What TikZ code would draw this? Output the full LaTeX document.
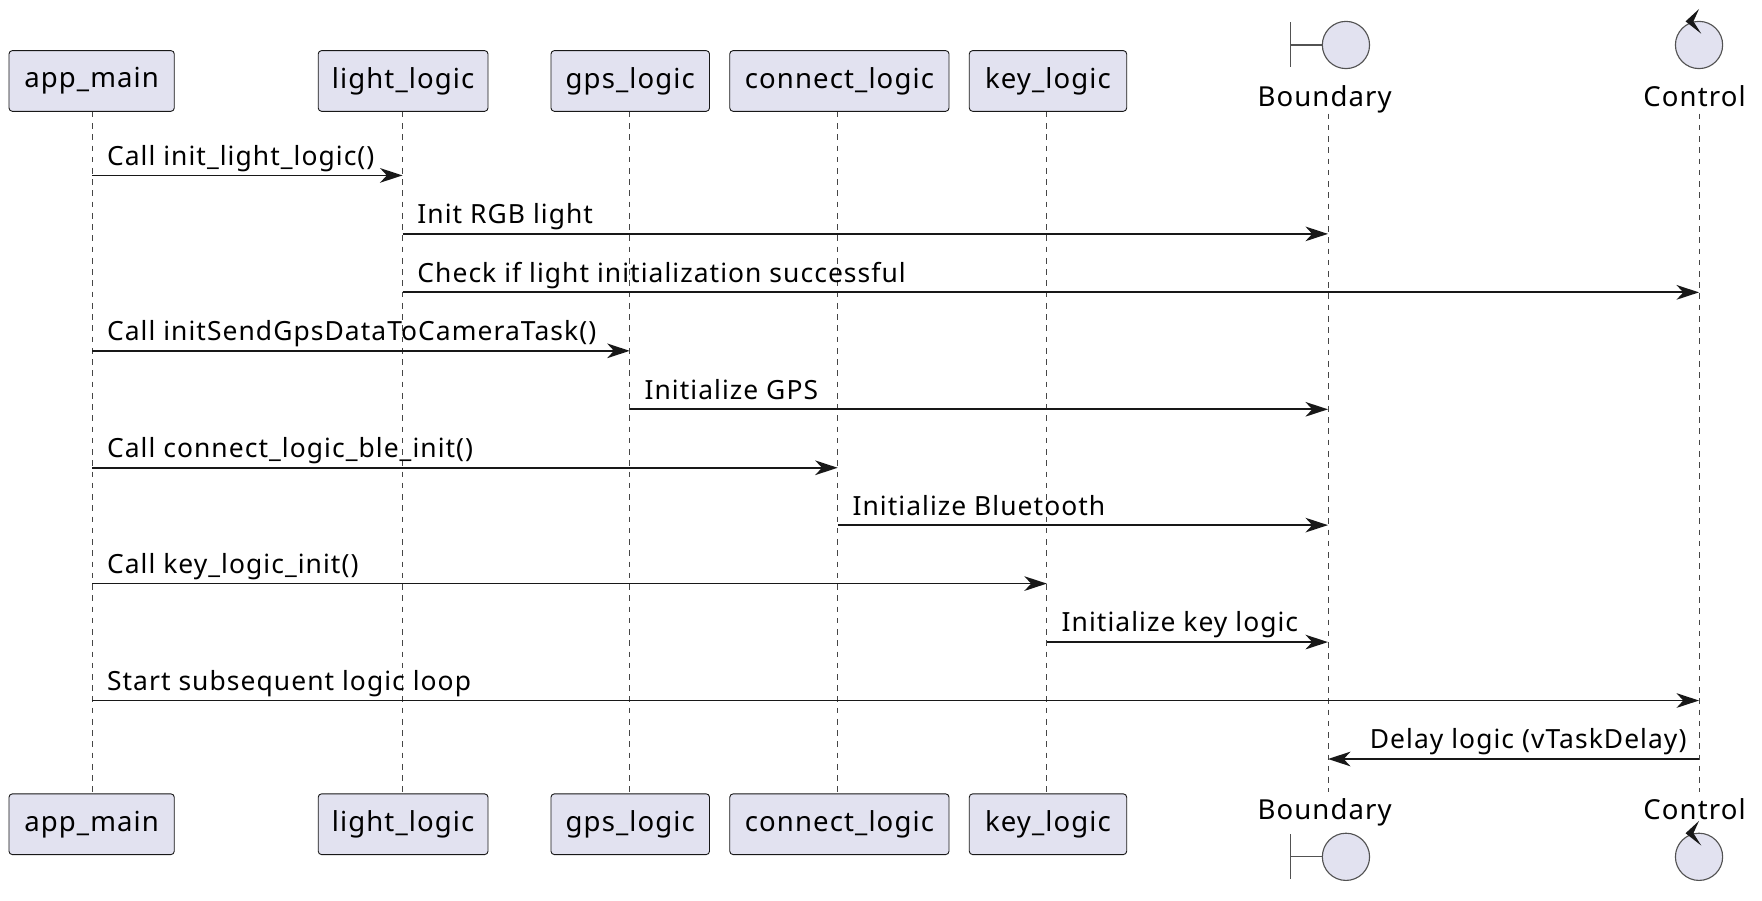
\documentclass[tikz,border=0pt]{standalone}
\usepackage{fontspec}
\setmainfont{Noto Sans}[LetterSpace=4]
\usetikzlibrary{arrows.meta}
\definecolor{pfill}{HTML}{E2E2F0}
\definecolor{pline}{HTML}{181818}
\tikzset{
  part/.style={draw=pline, fill=pfill, line width=0.8pt, rounded corners=3pt,
    minimum height=54pt, inner sep=0pt, font=\fontsize{24.5}{28}\selectfont},
  lifeline/.style={draw=pline!80, line width=0.8pt, dash pattern=on 5pt off 5pt},
  msg/.style={draw=pline, line width=1.6pt, -{Stealth[length=20pt,width=13pt,inset=6pt]}},
  msgtxt/.style={anchor=base west, inner sep=0pt, font=\fontsize{23.5}{26}\selectfont},
  iconline/.style={draw=pline!75, line width=1pt},
  iconcirc/.style={draw=pline!75, fill=pfill, line width=1pt},
  actlabel/.style={inner sep=0pt, anchor=base, font=\fontsize{24.5}{28}\selectfont}
}
\begin{document}
\begin{tikzpicture}[x=1pt,y=-1pt]
\useasboundingbox (0,0) rectangle (1567,801);
% participants top
\node[part, minimum width=147pt] (am) at (81.5,72) {app\_main};
\node[part, minimum width=151pt] (ll) at (358.5,72) {light\_logic};
\node[part, minimum width=141pt] (gl) at (560.5,72) {gps\_logic};
\node[part, minimum width=195pt] (cl) at (746.5,72) {connect\_logic};
\node[part, minimum width=140pt] (kl) at (932,72) {key\_logic};
% participants bottom
\node[part, minimum width=147pt] (amb) at (81.5,733) {app\_main};
\node[part, minimum width=151pt] (llb) at (358.5,733) {light\_logic};
\node[part, minimum width=141pt] (glb) at (560.5,733) {gps\_logic};
\node[part, minimum width=195pt] (clb) at (746.5,733) {connect\_logic};
\node[part, minimum width=140pt] (klb) at (932,733) {key\_logic};
% boundary / control labels
\node[actlabel] (bd) at (1178,95) {Boundary};
\node[actlabel] (ct) at (1507,95) {Control};
\node[actlabel] (bdb) at (1178,729) {Boundary};
\node[actlabel] (ctb) at (1507,729) {Control};
% lifeline coordinates
\coordinate (xam) at (82,0);
\coordinate (xll) at (358,0);
\coordinate (xgl) at (560,0);
\coordinate (xcl) at (745,0);
\coordinate (xkl) at (931,0);
\coordinate (xbd) at (1181,0);
\coordinate (xct) at (1511,0);
% lifelines
\draw[lifeline] (am.south -| xam) -- (amb.north -| xam);
\draw[lifeline] (ll.south -| xll) -- (llb.north -| xll);
\draw[lifeline] (gl.south -| xgl) -- (glb.north -| xgl);
\draw[lifeline] (cl.south -| xcl) -- (clb.north -| xcl);
\draw[lifeline] (kl.south -| xkl) -- (klb.north -| xkl);
\draw[lifeline] (xbd |- 0,101) -- (xbd |- 0,704);
\draw[lifeline] (xct |- 0,101) -- (xct |- 0,704);
% boundary icons
\foreach \cy in {40, 762}{
  \draw[iconline] (1148,\cy-20) -- (1148,\cy+20);
  \draw[iconline] (1148,\cy) -- (1176,\cy);
  \draw[iconcirc] (1197,\cy) circle[radius=21];
}
% control icons
\foreach \cy in {40, 762}{
  \draw[iconcirc] (1511,\cy) circle[radius=21];
  \fill[pline] (1499,\cy-21) -- (1511,\cy-32) -- (1506,\cy-21) -- (1513,\cy-10) -- cycle;
}
% messages
\draw[msg] (xam |- 0,156) -- (xll |- 0,156);
\node[msgtxt] (m1) at (95,147) {Call init\_light\_logic()};
\draw[msg] (xll |- 0,208) -- (xbd |- 0,208);
\node[msgtxt] (m2) at (371,199) {Init RGB light};
\draw[msg] (xll |- 0,260) -- (xct |- 0,260);
\node[msgtxt] (m3) at (371,251) {Check if light initialization successful};
\draw[msg] (xam |- 0,312) -- (xgl |- 0,312);
\node[msgtxt] (m4) at (95,303) {Call initSendGpsDataToCameraTask()};
\draw[msg] (xgl |- 0,364) -- (xbd |- 0,364);
\node[msgtxt] (m5) at (573,355) {Initialize GPS};
\draw[msg] (xam |- 0,416) -- (xcl |- 0,416);
\node[msgtxt] (m6) at (95,407) {Call connect\_logic\_ble\_init()};
\draw[msg] (xcl |- 0,467) -- (xbd |- 0,467);
\node[msgtxt] (m7) at (758,458) {Initialize Bluetooth};
\draw[msg] (xam |- 0,519) -- (xkl |- 0,519);
\node[msgtxt] (m8) at (95,510) {Call key\_logic\_init()};
\draw[msg] (xkl |- 0,571) -- (xbd |- 0,571);
\node[msgtxt] (m9) at (944,562) {Initialize key logic};
\draw[msg] (xam |- 0,623) -- (xct |- 0,623);
\node[msgtxt] (m10) at (95,614) {Start subsequent logic loop};
\draw[msg] (xct |- 0,675) -- (xbd |- 0,675);
\node[msgtxt, anchor=base east] (m11) at (1500,666) {Delay logic (vTaskDelay)};
\end{tikzpicture}
\end{document}
